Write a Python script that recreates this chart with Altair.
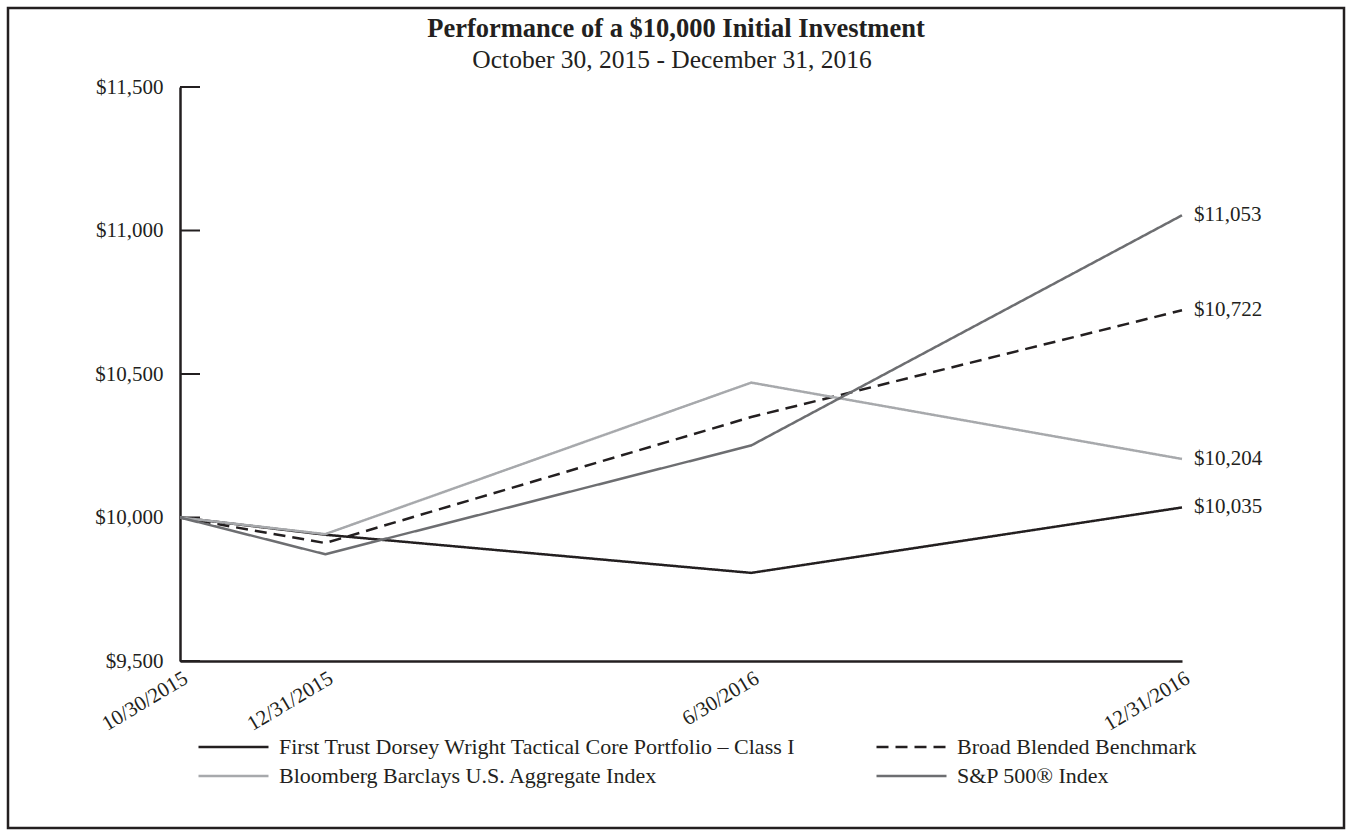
import altair as alt
import pandas as pd

title_text = "Performance of a $10,000 Initial Investment"
subtitle_text = "October 30, 2015 - December 31, 2016"
dates = ["2015-10-30", "2015-12-31", "2016-06-30", "2016-12-31"]
series_names = [
    "First Trust Dorsey Wright Tactical Core Portfolio – Class I",
    "Broad Blended Benchmark",
    "Bloomberg Barclays U.S. Aggregate Index",
    "S&P 500® Index",
]
fund = [10000, 9940, 9807, 10035]
blended = [10000, 9911, 10350, 10722]
aggregate = [10000, 9942, 10470, 10204]
sp500 = [10000, 9872, 10251, 11053]
y_ticks = [9500, 10000, 10500, 11000, 11500]

colors = ["#231f20", "#231f20", "#a7a9ac", "#6d6e71"]
dashes = [[1, 0], [12, 7], [1, 0], [1, 0]]

rows = []
for name, vals in zip(series_names, [fund, blended, aggregate, sp500]):
    for d, v in zip(dates, vals):
        rows.append({"date": d, "value": v, "series": name})
df = pd.DataFrame(rows)
last = df[df["date"] == dates[-1]]

FONT = "Liberation Serif"
INK = "#231f20"

def dt(y, m, d):
    return alt.DateTime(year=y, month=m, date=d, utc=True)

xscale = alt.Scale(type="utc", domain=[dt(2015, 10, 30), dt(2016, 12, 31)], nice=False)
yscale = alt.Scale(domain=[9500, 11500], nice=False, zero=False)

xaxis = alt.Axis(
    values=[dt(2015, 10, 30), dt(2015, 12, 31), dt(2016, 6, 30), dt(2016, 12, 31)],
    format="%-m/%d/%Y", title=None, labelAngle=-31, labelFont=FONT, labelFontSize=21,
    labelColor=INK, ticks=False, grid=False, domainColor=INK, domainWidth=2.5,
    labelPadding=6, labelAlign="right", labelBaseline="top", labelOverlap=False,
)
yaxis = alt.Axis(
    values=y_ticks, format="$,.0f", title=None, labelFont=FONT, labelFontSize=21,
    labelColor=INK, ticks=False, grid=False, domainColor=INK, domainWidth=2.5,
    labelPadding=17,
)

color_scale = alt.Scale(domain=series_names, range=colors)
dash_scale = alt.Scale(domain=series_names, range=dashes)

legend = alt.Legend(
    title=None, orient="none", legendX=17, legendY=648, columns=2, direction="horizontal",
    symbolType="stroke", symbolSize=4900, symbolStrokeWidth=2.5, labelFont=FONT,
    labelFontSize=22, labelColor=INK, columnPadding=79, rowPadding=5, labelOffset=9,
    labelLimit=900, clipHeight=24,
)

lines = alt.Chart(df).mark_line(strokeWidth=2.5).encode(
    x=alt.X("date:T", scale=xscale, axis=xaxis),
    y=alt.Y("value:Q", scale=yscale, axis=yaxis),
    color=alt.Color("series:N", scale=color_scale, legend=legend, sort=series_names),
    strokeDash=alt.StrokeDash("series:N", scale=dash_scale, legend=legend, sort=series_names),
    order=alt.Order("date:T"),
)

labels = alt.Chart(last).mark_text(align="left", baseline="middle", dx=12, font=FONT,
                                   fontSize=21, color=INK).encode(
    x=alt.X("date:T", scale=xscale),
    y=alt.Y("value:Q", scale=yscale),
    text=alt.Text("value:Q", format="$,.0f"),
)

ticks = alt.Chart(pd.DataFrame({"t": y_ticks})).mark_rule(color=INK, strokeWidth=2).encode(
    y=alt.Y("t:Q", scale=yscale),
    x=alt.value(0),
    x2=alt.value(20),
)

frame = alt.Chart(pd.DataFrame({"a": [0]})).mark_rect(
    filled=False, stroke=INK, strokeWidth=2.5
).encode(
    x=alt.value(-172), x2=alt.value(1164), y=alt.value(-79), y2=alt.value(741),
)

title_mark = alt.Chart(pd.DataFrame({"t": [title_text]})).mark_text(
    font=FONT, fontSize=26.5, fontWeight="bold", color=INK, align="center", baseline="middle"
).encode(text="t:N", x=alt.value(496), y=alt.value(-58))

subtitle_mark = alt.Chart(pd.DataFrame({"t": [subtitle_text]})).mark_text(
    font=FONT, fontSize=25.5, color=INK, align="center", baseline="middle"
).encode(text="t:N", x=alt.value(492), y=alt.value(-27))

chart = alt.layer(frame, title_mark, subtitle_mark, ticks, lines, labels).properties(
    width=1002, height=574,
    autosize=alt.AutoSizeParams(type="none"),
    padding={"left": 180, "top": 87, "right": 169, "bottom": 174},
).configure_view(stroke=None)

chart.save("out.html", embed_options={"renderer": "svg", "actions": False})
